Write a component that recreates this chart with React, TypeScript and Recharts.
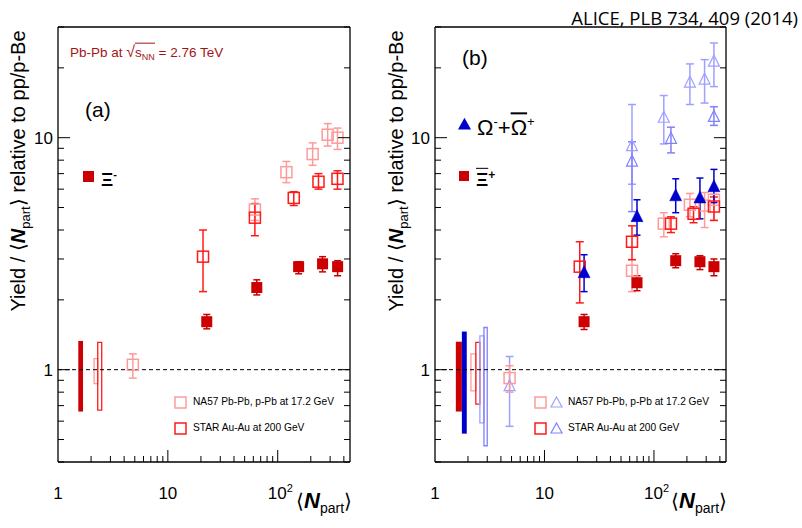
import React from 'react';
import { ScatterChart, Scatter, XAxis, YAxis, ErrorBar, ReferenceArea, ReferenceLine } from 'recharts';

const FONT = '"Liberation Sans", Arial, Helvetica, sans-serif';

// ---------- axes ----------
const X_TICKS = [1, 2, 3, 4, 5, 6, 7, 8, 9, 10, 20, 30, 40, 50, 60, 70, 80, 90, 100, 200, 300, 400];
const Y_TICKS = [0.4, 0.5, 0.6, 0.7, 0.8, 0.9, 1, 2, 3, 4, 5, 6, 7, 8, 9, 10, 20, 30];
const X_DOMAIN: [number, number] = [1, 455];
const Y_DOMAIN: [number, number] = [0.4, 30];
const X_LABELS: Record<number, string> = { 1: '1', 10: '10', 100: '10|2' };
const Y_LABELS: Record<number, string> = { 1: '1', 10: '10' };

// ---------- panel (a) ----------
const A_ALICE_X = [22.6, 64.5, 155, 256, 351];
const A_ALICE_Y = [1.61, 2.26, 2.78, 2.86, 2.78];
const A_ALICE_LO = [1.5, 2.1, 2.59, 2.64, 2.54];
const A_ALICE_HI = [1.73, 2.44, 2.92, 3.07, 2.95];

const A_NA57_X = [4.8, 62, 120, 208, 285, 350];
const A_NA57_Y = [1.05, 4.9, 7.1, 8.5, 10.3, 10.0];
const A_NA57_LO = [0.92, 4.4, 6.4, 7.6, 9.2, 8.9];
const A_NA57_HI = [1.17, 5.45, 7.9, 9.5, 11.5, 11.0];

const A_STAR_X = [20.9, 62, 140, 235, 350];
const A_STAR_Y = [3.07, 4.52, 5.5, 6.46, 6.65];
const A_STAR_LO = [2.17, 3.78, 5.1, 6.0, 6.0];
const A_STAR_HI = [4.0, 5.2, 5.85, 7.0, 7.2];

// systematic boxes: [x1, x2, y1, y2]
const A_SYS_ALICE = [1.53, 1.69, 0.66, 1.33];
const A_SYS_NA57 = [2.13, 2.3, 0.87, 1.115];
const A_SYS_STAR = [2.3, 2.5, 0.67, 1.31];

// ---------- panel (b) ----------
const B_XI_X = [23, 70, 158, 263, 353];
const B_XI_Y = [1.61, 2.37, 2.95, 2.92, 2.78];
const B_XI_LO = [1.49, 2.19, 2.75, 2.7, 2.54];
const B_XI_HI = [1.73, 2.54, 3.16, 3.1, 3.0];

const B_OM_X = [23, 70, 158, 263, 353];
const B_OM_Y = [2.62, 4.57, 5.62, 5.5, 6.15];
const B_OM_LO = [2.17, 3.8, 4.75, 4.47, 5.25];
const B_OM_HI = [3.13, 5.4, 6.65, 6.7, 7.3];

const B_NA57XI_X = [4.8, 63, 123, 213, 290, 353];
const B_NA57XI_Y = [0.92, 2.67, 4.26, 5.14, 5.1, 5.4];
const B_NA57XI_LO = [0.8, 2.17, 3.74, 4.56, 4.1, 4.4];
const B_NA57XI_HI = [1.04, 2.98, 4.75, 5.75, 5.8, 5.7];

const B_STARXI_X = [21, 63, 143, 230, 353];
const B_STARXI_Y = [2.78, 3.56, 4.26, 4.7, 5.05];
const B_STARXI_LO = [1.94, 2.98, 3.9, 4.3, 4.4];
const B_STARXI_HI = [3.56, 4.17, 4.56, 5.04, 5.55];

const B_NA57OM_X = [4.8, 63, 123, 213, 290, 353];
const B_NA57OM_Y = [0.85, 9.2, 12.2, 17.3, 17.8, 21.3];
const B_NA57OM_LO = [0.57, 6.3, 9.4, 13.9, 14.1, 16.6];
const B_NA57OM_HI = [1.14, 13.9, 15.2, 20.8, 21.7, 25.6];

const B_STAROM_X = [63, 143, 353];
const B_STAROM_Y = [7.9, 9.9, 12.3];
const B_STAROM_LO = [4.8, 8.6, 11.3];
const B_STAROM_HI = [9.6, 11.1, 13.6];

const B_SYS_XI = [1.55, 1.76, 0.66, 1.32];
const B_SYS_OM = [1.76, 1.95, 0.53, 1.46];
const B_SYS_NA57XI = [2.13, 2.36, 0.81, 1.17];
const B_SYS_STARXI = [2.36, 2.57, 0.71, 1.31];
const B_SYS_NA57OM = [2.57, 2.8, 0.59, 1.4];
const B_SYS_STAROM = [2.8, 3.0, 0.47, 1.52];

// ---------- colours ----------
const C_ALICE_RED = '#cc0000';
const C_ALICE_BLUE = '#0000cc';
const C_NA57_RED = '#ff9a9a';
const C_STAR_RED = '#ff1a1a';
const C_NA57_BLUE = '#a0a0ff';
const C_STAR_BLUE = '#8080ff';

function build(x: number[], y: number[], lo: number[], hi: number[]) {
  return x.map((xv, i) => ({ x: xv, y: y[i], err: [y[i] - lo[i], hi[i] - y[i]] }));
}

const square = (size: number, color: string, filled: boolean, sw = 1.5) => (p: any) => {
  const { cx, cy } = p;
  if (cx == null || cy == null) return <g />;
  const h = size / 2;
  return (
    <rect x={cx - h} y={cy - h} width={size} height={size}
      fill={filled ? color : 'none'} stroke={filled ? 'none' : color} strokeWidth={sw} />
  );
};

const triangle = (size: number, color: string, filled: boolean, sw = 1.2) => (p: any) => {
  const { cx, cy } = p;
  if (cx == null || cy == null) return <g />;
  const h = size / 2;
  const pts = `${cx},${cy - size * 0.58} ${cx + h},${cy + size * 0.42} ${cx - h},${cy + size * 0.42}`;
  return <polygon points={pts} fill={filled ? color : 'none'} stroke={color} strokeWidth={filled ? 0.5 : sw} />;
};

const XTick = (p: any) => {
  const { x, y, payload } = p;
  const v = payload.value;
  const major = v === 10 || v === 100;
  const len = v === 1 ? 0 : major ? 12 : 6;
  const lab = X_LABELS[v];
  let label: any = null;
  if (lab) {
    const parts = lab.split('|');
    if (parts.length === 2) {
      label = (
        <text x={x - 10} y={y + 37} textAnchor="start" fontSize={17} fill="#000" fontFamily={FONT}>
          <tspan>{parts[0]}</tspan>
          <tspan dy={-7} fontSize={11}>{parts[1]}</tspan>
        </text>
      );
    } else {
      label = (
        <text x={x} y={y + 37} textAnchor="middle" fontSize={17} fill="#000" fontFamily={FONT}>{lab}</text>
      );
    }
  }
  return (
    <g>
      {len > 0 && <line x1={x} x2={x} y1={y} y2={y - len} stroke="#000" strokeWidth={1} />}
      {label}
    </g>
  );
};

const YTickL = (p: any) => {
  const { x, y, payload } = p;
  const v = payload.value;
  const major = v === 1 || v === 10;
  const len = major ? 12 : 6;
  const lab = Y_LABELS[v];
  return (
    <g>
      <line x1={x} x2={x + len} y1={y} y2={y} stroke="#000" strokeWidth={1} />
      {lab && (
        <text x={x - 5} y={y + 6} textAnchor="end" fontSize={17} fill="#000" fontFamily={FONT}>{lab}</text>
      )}
    </g>
  );
};

const YTickR = (p: any) => {
  const { x, y, payload } = p;
  const v = payload.value;
  const major = v === 1 || v === 10;
  const len = major ? 12 : 6;
  return <line x1={x} x2={x - len} y1={y} y2={y} stroke="#000" strokeWidth={1} />;
};

const SysBox = (b: number[], color: string, filled: boolean) => (
  <ReferenceArea x1={b[0]} x2={b[1]} y1={b[2]} y2={b[3]} ifOverflow="visible"
    fill={filled ? color : 'none'} fillOpacity={1} stroke={color} strokeWidth={filled ? 0 : 1.3} />
);

function Series(data: any[], shape: any, color: string, sw = 1.5, w = 4) {
  return (
    <Scatter data={data} shape={shape} isAnimationActive={false} fill={color}>
      <ErrorBar dataKey="err" direction="y" width={w} stroke={color} strokeWidth={sw} />
    </Scatter>
  );
}

function Axes() {
  return [
    <XAxis key="x" type="number" dataKey="x" scale="log" domain={X_DOMAIN} allowDataOverflow ticks={X_TICKS}
      interval={0} tickSize={0} tickMargin={0} tick={<XTick />} tickLine={false} height={40}
      axisLine={{ stroke: '#000', strokeWidth: 1.3 }} />,
    <YAxis key="y" type="number" dataKey="y" scale="log" domain={Y_DOMAIN} allowDataOverflow ticks={Y_TICKS}
      interval={0} tickSize={0} tickMargin={0} tick={<YTickL />} tickLine={false} width={40}
      axisLine={{ stroke: '#000', strokeWidth: 1.3 }} />,
    <YAxis key="yr" yAxisId="r" orientation="right" type="number" dataKey="y" scale="log" domain={Y_DOMAIN}
      allowDataOverflow ticks={Y_TICKS} interval={0} tickSize={0} tickMargin={0} tick={<YTickR />}
      tickLine={false} width={10} axisLine={{ stroke: '#000', strokeWidth: 1.3 }} />,
    <ReferenceLine key="top" y={30} stroke="#000" strokeWidth={1.3} />,
    <ReferenceLine key="one" y={1} stroke="#000" strokeWidth={1} strokeDasharray="4 3" />,
  ];
}

const Txt = ({ x, y, size, children, color = '#000', anchor = 'start', style = {} }: any) => (
  <div style={{
    position: 'absolute', left: x, top: y, fontSize: size, color, lineHeight: 1, whiteSpace: 'nowrap',
    transform: `translate(${anchor === 'end' ? '-100%' : anchor === 'middle' ? '-50%' : '0'}, -50%)`, ...style,
  }}>{children}</div>
);

const Mark = ({ x, y, kind, color, filled, size = 11 }: any) => {
  const s = size + 4;
  return (
    <svg width={s} height={s} style={{ position: 'absolute', left: x - s / 2, top: y - s / 2 }}>
      {kind === 'sq'
        ? <rect x={2} y={2} width={size} height={size} fill={filled ? color : 'none'} stroke={filled ? 'none' : color} strokeWidth={1.5} />
        : <polygon points={`${s / 2},${2} ${s - 2},${s - 3} ${2},${s - 3}`} fill={filled ? color : 'none'} stroke={color} strokeWidth={1.2} />}
    </svg>
  );
};

const YTitle = ({ x }: { x: number }) => (
  <div style={{
    position: 'absolute', left: x, top: 171, fontSize: 20, lineHeight: 1, whiteSpace: 'nowrap',
    transform: 'translate(-50%, -50%) rotate(-90deg)',
  }}>
    Yield / <span style={{ fontFamily: 'DejaVu Sans', fontWeight: 200 }}>⟨</span>
    <b><i>N</i></b><sub style={{ fontSize: 13 }}>part</sub>
    <span style={{ fontFamily: 'DejaVu Sans', fontWeight: 200 }}>⟩</span> relative to pp/p-Be
  </div>
);

const XTitle = ({ x }: { x: number }) => (
  <div style={{ position: 'absolute', left: x, top: 490, fontSize: 22, lineHeight: 1, whiteSpace: 'nowrap' }}>
    <span style={{ fontFamily: 'DejaVu Sans', fontWeight: 200, fontSize: 20 }}>⟨</span>
    <b><i>N</i></b><sub style={{ fontSize: 14 }}>part</sub>
    <span style={{ fontFamily: 'DejaVu Sans', fontWeight: 200, fontSize: 20 }}>⟩</span>
  </div>
);

export default function App() {
  const aAlice = build(A_ALICE_X, A_ALICE_Y, A_ALICE_LO, A_ALICE_HI);
  const aNa57 = build(A_NA57_X, A_NA57_Y, A_NA57_LO, A_NA57_HI);
  const aStar = build(A_STAR_X, A_STAR_Y, A_STAR_LO, A_STAR_HI);

  const bXi = build(B_XI_X, B_XI_Y, B_XI_LO, B_XI_HI);
  const bOm = build(B_OM_X, B_OM_Y, B_OM_LO, B_OM_HI);
  const bNa57Xi = build(B_NA57XI_X, B_NA57XI_Y, B_NA57XI_LO, B_NA57XI_HI);
  const bStarXi = build(B_STARXI_X, B_STARXI_Y, B_STARXI_LO, B_STARXI_HI);
  const bNa57Om = build(B_NA57OM_X, B_NA57OM_Y, B_NA57OM_LO, B_NA57OM_HI);
  const bStarOm = build(B_STAROM_X, B_STAROM_Y, B_STAROM_LO, B_STAROM_HI);

  return (
    <div style={{ position: 'absolute', left: 0, top: 0, width: 802, height: 528, background: '#fff', fontFamily: FONT, overflow: 'hidden' }}>
      <div style={{ position: 'absolute', left: 0, top: 0 }}>
        <ScatterChart width={400} height={528} margin={{ top: 27, right: 40, bottom: 26, left: 18 }}>
          {Axes()}
          {SysBox(A_SYS_ALICE, C_ALICE_RED, true)}
          {SysBox(A_SYS_NA57, C_NA57_RED, false)}
          {SysBox(A_SYS_STAR, C_STAR_RED, false)}
          {Series(aNa57, square(11, C_NA57_RED, false), C_NA57_RED)}
          {Series(aStar, square(11, C_STAR_RED, false), C_STAR_RED)}
          {Series(aAlice, square(11, C_ALICE_RED, true), C_ALICE_RED, 1.5, 3.5)}
        </ScatterChart>
      </div>
      <div style={{ position: 'absolute', left: 400, top: 0 }}>
        <ScatterChart width={402} height={528} margin={{ top: 27, right: 66, bottom: 26, left: -5 }}>
          {Axes()}
          {SysBox(B_SYS_XI, C_ALICE_RED, true)}
          {SysBox(B_SYS_OM, C_ALICE_BLUE, true)}
          {SysBox(B_SYS_NA57XI, C_NA57_RED, false)}
          {SysBox(B_SYS_STARXI, C_STAR_RED, false)}
          {SysBox(B_SYS_NA57OM, C_NA57_BLUE, false)}
          {SysBox(B_SYS_STAROM, C_STAR_BLUE, false)}
          {Series(bNa57Om, triangle(11, C_NA57_BLUE, false), C_NA57_BLUE)}
          {Series(bStarOm, triangle(11, C_STAR_BLUE, false), C_STAR_BLUE)}
          {Series(bNa57Xi, square(11, C_NA57_RED, false), C_NA57_RED)}
          {Series(bStarXi, square(11, C_STAR_RED, false), C_STAR_RED)}
          {Series(bXi, square(11, C_ALICE_RED, true), C_ALICE_RED, 1.5, 3.5)}
          {Series(bOm, triangle(12, C_ALICE_BLUE, true), C_ALICE_BLUE, 1.5, 3.5)}
        </ScatterChart>
      </div>

      {/* titles */}
      <Txt x={798} y={18} size={18.5} anchor="end" style={{ fontFamily: '"Open Sans", "Noto Sans", sans-serif' }}>
        ALICE, PLB 734, 409 (2014)
      </Txt>
      <YTitle x={20} />
      <YTitle x={398} />
      <XTitle x={296} />
      <XTitle x={671} />

      {/* panel a annotations */}
      <Txt x={70} y={53} size={13.5} color="#a31515">
        Pb-Pb at <span style={{ fontSize: 16 }}>√</span>
        <span style={{ borderTop: '1px solid #a31515', paddingTop: 1 }}>s<sub style={{ fontSize: 9 }}>NN</sub></span> = 2.76 TeV
      </Txt>
      <Txt x={85} y={109} size={21}>(a)</Txt>
      <Mark x={88} y={176} kind="sq" color={C_ALICE_RED} filled size={11} />
      <Txt x={101} y={179} size={19} style={{ fontWeight: 'bold' }}>Ξ<sup style={{ fontSize: 11 }}>-</sup></Txt>

      <Mark x={180} y={402} kind="sq" color={C_NA57_RED} size={11} />
      <Txt x={193} y={402} size={10.2}>NA57 Pb-Pb, p-Pb at 17.2 GeV</Txt>
      <Mark x={180} y={428} kind="sq" color={C_STAR_RED} size={11} />
      <Txt x={193} y={428} size={10.2}>STAR Au-Au at 200 GeV</Txt>

      {/* panel b annotations */}
      <Txt x={462} y={57} size={21}>(b)</Txt>
      <Mark x={464} y={124} kind="tri" color={C_ALICE_BLUE} filled size={11} />
      <Txt x={477} y={127} size={22}>
        Ω<sup style={{ fontSize: 13 }}>-</sup>+<span style={{ textDecoration: 'overline' }}>Ω</span><sup style={{ fontSize: 13 }}>+</sup>
      </Txt>
      <Mark x={464} y={176} kind="sq" color={C_ALICE_RED} filled size={10} />
      <Txt x={476} y={179} size={19} style={{ fontWeight: 'bold' }}>
        <span style={{ textDecoration: 'overline' }}>Ξ</span><sup style={{ fontSize: 12 }}>+</sup>
      </Txt>

      <Mark x={540} y={402} kind="sq" color={C_NA57_RED} size={11} />
      <Mark x={556} y={402} kind="tri" color={C_NA57_BLUE} size={11} />
      <Txt x={568} y={402} size={10.2}>NA57 Pb-Pb, p-Pb at 17.2 GeV</Txt>
      <Mark x={540} y={428} kind="sq" color={C_STAR_RED} size={11} />
      <Mark x={556} y={428} kind="tri" color={C_STAR_BLUE} size={11} />
      <Txt x={568} y={428} size={10.2}>STAR Au-Au at 200 GeV</Txt>
    </div>
  );
}
